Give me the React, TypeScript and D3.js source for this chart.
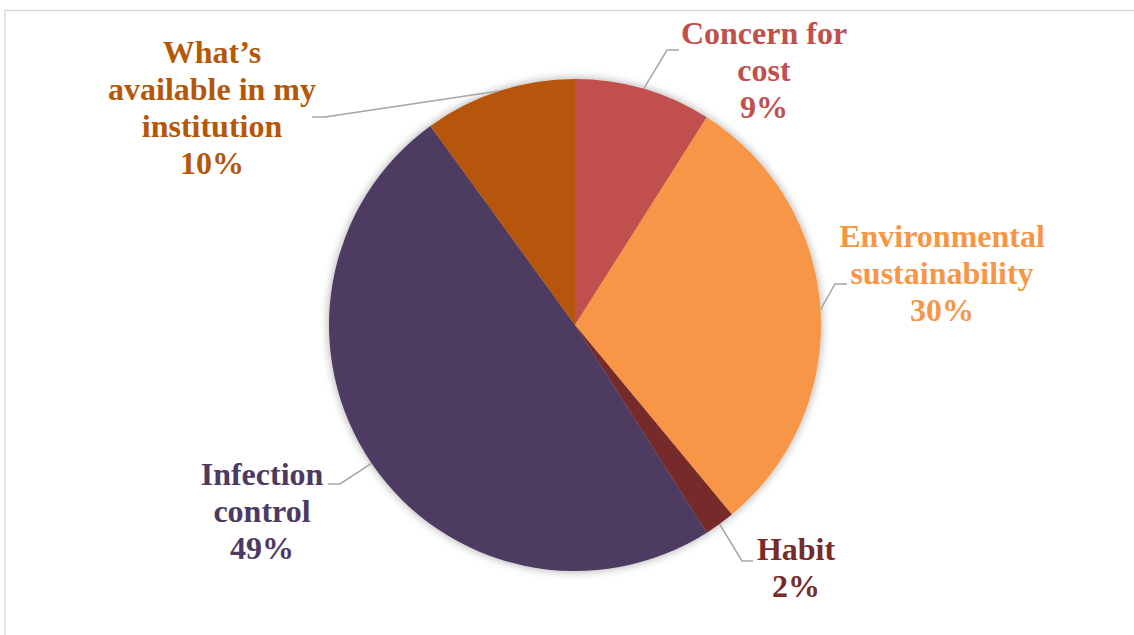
import React from "react";
import * as d3 from "d3";

const categories = [
  "Concern for cost",
  "Environmental sustainability",
  "Habit",
  "Infection control",
  "What\u2019s available in my institution",
];
const values = [9, 30, 2, 49, 10];
const labelLines = [
  ["Concern for", "cost", "9%"],
  ["Environmental", "sustainability", "30%"],
  ["Habit", "2%"],
  ["Infection", "control", "49%"],
  ["What\u2019s", "available in my", "institution", "10%"],
];
const colors = ["#c0504d", "#f79646", "#772c2a", "#4d3a62", "#b65708"];

// layout: label centre x, first baseline y, leader elbow and end
const labelLayout = [
  { x: 764, y: 44, elbow: [667, 50], end: [679, 50] },
  { x: 942, y: 247, elbow: [835, 284], end: [847, 284] },
  { x: 796, y: 560, elbow: [742, 561], end: [753, 561] },
  { x: 262, y: 485, elbow: [340, 484], end: [328, 484] },
  { x: 212, y: 63, elbow: [325, 117], end: [312, 117] },
];

const W = 1134;
const H = 635;
const cx = 575;
const cy = 325;
const R = 246;
const lineH = 37;

export default function App() {
  const pie = d3.pie<number>().sort(null).value((d) => d);
  const arcs = pie(values);
  const arc = d3.arc<d3.PieArcDatum<number>>().innerRadius(0).outerRadius(R);
  const edge = d3.arc<d3.PieArcDatum<number>>().innerRadius(R).outerRadius(R);

  return (
    <svg
      width={W}
      height={H}
      style={{ position: "absolute", left: 0, top: 0, background: "#fff" }}
    >
      <defs>
        <filter id="sh" x="-20%" y="-20%" width="140%" height="140%">
          <feDropShadow dx="0" dy="0" stdDeviation="5" floodColor="#000" floodOpacity="0.35" />
        </filter>
      </defs>
      <rect x={5} y={10.5} width={W + 10} height={H + 10} fill="#fff" stroke="#d9d9d9" strokeWidth={1.5} />
      <g transform={`translate(${cx},${cy})`} filter="url(#sh)">
        {arcs.map((a, i) => (
          <path key={categories[i]} d={arc(a) || ""} fill={colors[i]} />
        ))}
      </g>
      {arcs.map((a, i) => {
        const [ex, ey] = edge.centroid(a);
        const L = labelLayout[i];
        const pts = [[cx + ex, cy + ey], L.elbow, L.end];
        return (
          <polyline
            key={"l" + i}
            points={pts.map((p) => p.join(",")).join(" ")}
            fill="none"
            stroke="#a6a6a6"
            strokeWidth={1.5}
          />
        );
      })}
      {labelLines.map((lines, i) => (
        <text
          key={"t" + i}
          x={labelLayout[i].x}
          y={labelLayout[i].y}
          textAnchor="middle"
          fontFamily="Liberation Serif"
          fontWeight="bold"
          fontSize={32}
          fill={colors[i]}
        >
          {lines.map((ln, j) => (
            <tspan key={j} x={labelLayout[i].x} dy={j === 0 ? 0 : lineH}>
              {ln}
            </tspan>
          ))}
        </text>
      ))}
    </svg>
  );
}
